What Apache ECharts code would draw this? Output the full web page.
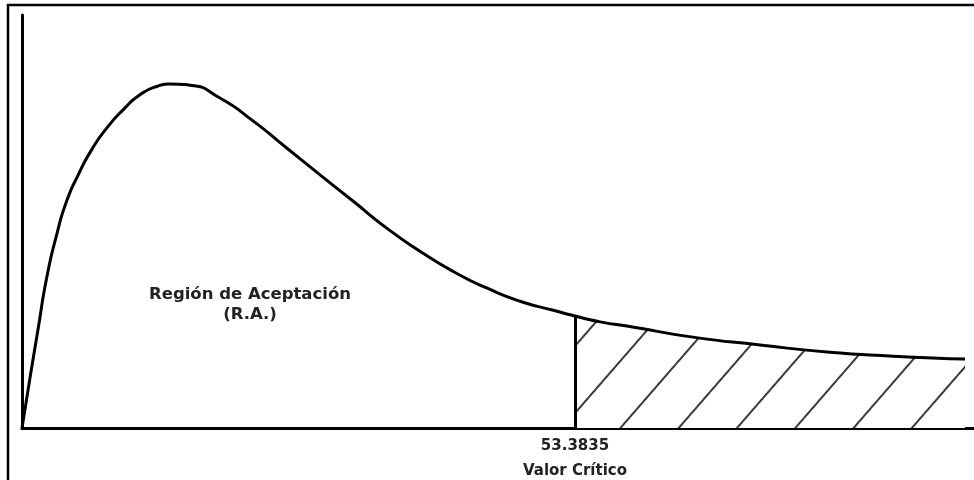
<!DOCTYPE html>
<html>
<head>
<meta charset="utf-8">
<script src="https://cdn.jsdelivr.net/npm/echarts@6/dist/echarts.min.js"></script>
<style>
    html, body {margin: 0; padding: 0; background: #fff;}
    #chartdiv {width: 974px; height: 480px;}
</style>
</head>
<body>
<div id="chartdiv"></div>
<script>
// curva (x, densidad relativa)
var curveX = [0, 0.77, 1.57, 2.38, 3.35, 4.32, 5.43, 6.73, 8.18, 9.78, 11.39, 13.00, 14.29, 16.22, 19.11,
    22.33, 25.55, 28.77, 31.98, 35.21, 38.42, 41.64, 44.86, 48.07, 51.29, 53.3835, 55.80, 58.40, 64.77,
    71.24, 77.71, 84.08, 91.03];
var curveY = [0, 0.121, 0.242, 0.363, 0.468, 0.550, 0.613, 0.674, 0.726, 0.771, 0.807, 0.827, 0.833, 0.830, 0.799,
    0.743, 0.678, 0.613, 0.549, 0.484, 0.428, 0.379, 0.339, 0.307, 0.285, 0.271, 0.257, 0.247, 0.220,
    0.201, 0.184, 0.174, 0.167];
var critValue = 53.3835;
var critLabel = ["53.3835", "Valor Crítico"];
var regionA = ["Región de Aceptación", "(R.A.)"];
var regionR = ["Región de Rechazo", "(R.R.)"];

var pData = [];
var rData = [];
var critY = 0;
for (var i = 0; i < curveX.length; i++) {
    pData.push([curveX[i], curveY[i]]);
    if (curveX[i] >= critValue) {
        rData.push([curveX[i], curveY[i]]);
    }
    if (curveX[i] == critValue) {
        critY = curveY[i];
    }
}

var myChart = echarts.init(document.getElementById("chartdiv"));
var txtFont = "'DejaVu Sans'";

var option = {
    animation: false,
    backgroundColor: '#fff',
    grid: {left: 22, top: 15, right: 0, bottom: 52},
    xAxis: {
        type: 'value', min: 0, max: 91.9,
        axisLine: {show: true, lineStyle: {color: '#000', width: 3}},
        axisTick: {show: false}, axisLabel: {show: false}, splitLine: {show: false}
    },
    yAxis: {
        type: 'value', min: 0, max: 1,
        axisLine: {show: true, lineStyle: {color: '#000', width: 3}},
        axisTick: {show: false}, axisLabel: {show: false}, splitLine: {show: false}
    },
    graphic: [
        {type: 'polyline', shape: {points: [[8, 480], [8, 5], [974, 5]]}, style: {stroke: '#000', lineWidth: 2.5, fill: null}},
        {
            type: 'text', x: 250, y: 305, style: {
                text: regionA.join('\n'), align: 'center', verticalAlign: 'middle', lineHeight: 20,
                font: 'bold 16.5px ' + txtFont, fill: '#222'
            }
        },
        {
            type: 'text', x: 752, y: 383, style: {
                text: regionR.join('\n'), align: 'center', verticalAlign: 'middle', lineHeight: 23,
                font: 'bold 14.5px ' + txtFont, fill: '#ee1c1c'
            }
        }
    ],
    series: [
        {
            type: 'line',
            data: rData,
            smooth: 0.6,
            symbol: 'none',
            lineStyle: {width: 0},
            itemStyle: {
                color: '#fff',
                decal: {
                    symbol: 'rect',
                    color: '#3a3a3a',
                    backgroundColor: '#fff',
                    dashArrayX: [1, 0],
                    dashArrayY: [1.2, 42],
                    rotation: -Math.PI * 49 / 180
                }
            },
            areaStyle: {opacity: 1},
            z: 1
        },
        {
            type: 'line',
            data: pData,
            smooth: 0.6,
            symbol: 'none',
            lineStyle: {color: '#000', width: 3},
            markLine: {
                symbol: 'none',
                silent: true,
                lineStyle: {color: '#000', width: 3, type: 'solid'},
                label: {
                    show: true, position: 'start', formatter: critLabel.join('\n'),
                    fontFamily: 'DejaVu Sans', fontWeight: 'bold', fontSize: 15, color: '#222', lineHeight: 25,
                    distance: 6
                },
                data: [[{coord: [critValue, 0]}, {coord: [critValue, critY]}]]
            },
            z: 3
        }
    ]
};

myChart.setOption(option);
</script>
</body>
</html>
